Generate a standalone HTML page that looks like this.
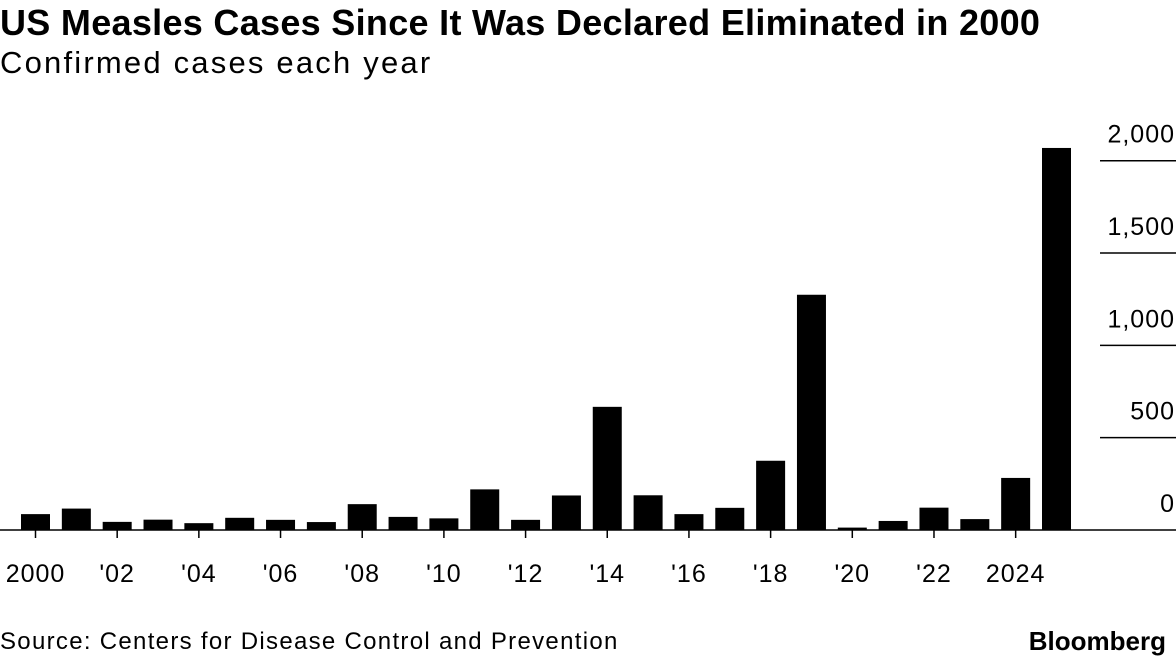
<!DOCTYPE html>
<html><head><meta charset="utf-8"><style>
body{margin:0;width:1176px;height:662px;background:#fff;font-family:"Liberation Sans",Arial,sans-serif;overflow:hidden;position:relative;color:#000}
.t{position:absolute;left:0;top:2px;font-size:36px;font-weight:bold;letter-spacing:0.3px;white-space:nowrap}
.s{position:absolute;left:0;top:45px;font-size:31px;letter-spacing:2.2px;white-space:nowrap}
.src{position:absolute;left:0;top:628px;font-size:24px;letter-spacing:1.3px;white-space:nowrap}
.bb{position:absolute;right:10px;top:626px;font-size:26px;font-weight:bold;letter-spacing:0px}
</style></head><body>
<div class="t">US Measles Cases Since It Was Declared Eliminated in 2000</div>
<div class="s">Confirmed cases each year</div>
<svg id="c" width="1176" height="662" style="position:absolute;left:0;top:0"></svg>
<div class="src">Source: Centers for Disease Control and Prevention</div>
<div class="bb">Bloomberg</div>
<script>
const years=[2000,2001,2002,2003,2004,2005,2006,2007,2008,2009,2010,2011,2012,2013,2014,2015,2016,2017,2018,2019,2020,2021,2022,2023,2024,2025];
const cases=[86,116,44,56,37,66,55,43,140,71,63,220,55,187,667,188,86,120,375,1274,13,49,121,59,282,2069];
const yTicks=[0,500,1000,1500,2000];
const yTickLabels=["0","500","1,000","1,500","2,000"];
const xTickYears=[2000,2002,2004,2006,2008,2010,2012,2014,2016,2018,2020,2022,2024];
const xTickLabels=["2000","'02","'04","'06","'08","'10","'12","'14","'16","'18","'20","'22","2024"];
const NS="http://www.w3.org/2000/svg",svg=document.getElementById('c');
const x0=35.5,step=(1056.5-35.5)/25,bw=29;
const xs=y=>x0+(y-2000)*step;
const ys=v=>530-v*(369.3/2000);
function mk(t,a){const e=document.createElementNS(NS,t);for(const k in a)e.setAttribute(k,a[k]);svg.appendChild(e);return e;}
yTicks.forEach((v,i)=>{
  if(v>0){const g=mk('line',{x1:1100,x2:1176,y1:ys(v),y2:ys(v),stroke:'#000','stroke-width':1.5});
  
  }
  const t=mk('text',{x:1175,y:ys(v)-18,'text-anchor':'end','font-size':25,'letter-spacing':1,'font-family':'Liberation Sans, sans-serif'});
  t.textContent=yTickLabels[i];
  
  
});
years.forEach((y,i)=>{
  const r=mk('rect',{x:xs(y)-bw/2,y:ys(cases[i]),width:bw,height:530-ys(cases[i]),fill:'#000'});
  
  
});
const base=mk('line',{x1:0,x2:1176,y1:530,y2:530,stroke:'#000','stroke-width':1.5});


xTickYears.forEach((y,i)=>{
  const l=mk('line',{x1:xs(y),x2:xs(y),y1:530,y2:538,stroke:'#000','stroke-width':1.5});
  
  
  const t=mk('text',{x:xs(y),y:582,'text-anchor':'middle','font-size':25,'letter-spacing':1,'font-family':'Liberation Sans, sans-serif'});
  t.textContent=xTickLabels[i];
  
  
});
</script>
</body></html>
